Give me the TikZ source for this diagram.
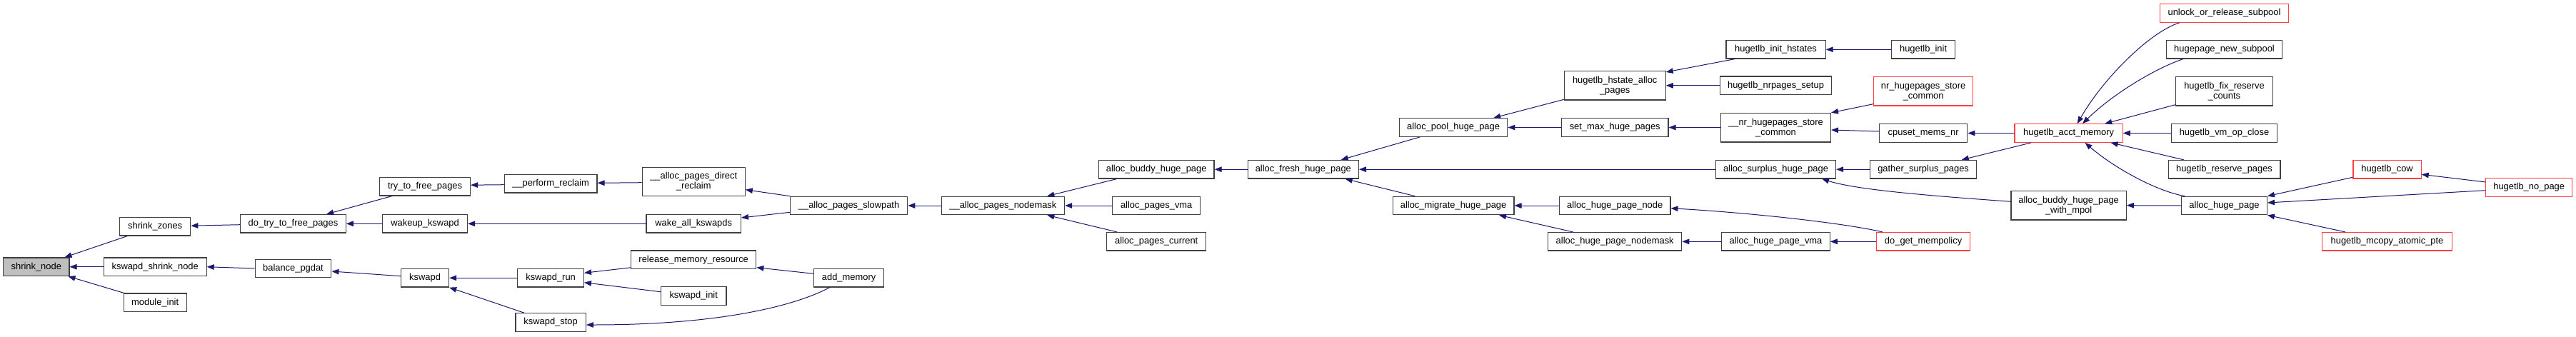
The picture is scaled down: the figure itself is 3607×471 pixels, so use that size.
\documentclass[tikz,border=0pt]{standalone}
\usepackage{fontspec}
\setmainfont{Liberation Sans}
\usetikzlibrary{arrows.meta,calc}
\definecolor{edgec}{RGB}{25,25,112}
\definecolor{bordc}{RGB}{64,64,64}
\definecolor{redc}{RGB}{255,64,64}
\definecolor{fillg}{RGB}{191,191,191}
\begin{document}
\begin{tikzpicture}[x=1pt,y=-1pt,
  box/.style={draw=bordc, line width=1.2pt, fill=white, inner sep=0pt, align=center,
    font=\fontsize{12.9}{14}\selectfont, minimum height=25.5pt},
  tbox/.style={box, minimum height=40.5pt},
  redbox/.style={box, draw=redc},
  tredbox/.style={tbox, draw=redc},
  edge/.style={draw=edgec, line width=1pt, -{Triangle[length=10pt,width=7.5pt]}}]
\useasboundingbox[fill=white] (0,0) rectangle (3607,471);

% column 1-2
\node[box, fill=fillg, minimum width=92.2pt] (shrinknode) at (50.8,373.7) {shrink\_node};
\node[box, minimum width=99.2pt] (shrinkzones) at (217.2,317.2) {shrink\_zones};
\node[box, minimum width=143.9pt] (kswapdshrink) at (217.2,373.7) {kswapd\_shrink\_node};
\node[box, minimum width=88.2pt] (moduleinit) at (217.2,423.7) {module\_init};
% column 3
\node[box, minimum width=147.5pt] (dotry) at (410.5,313.3) {do\_try\_to\_free\_pages};
\node[box, minimum width=106.7pt] (balance) at (410.5,376) {balance\_pgdat};
% column 4
\node[box, minimum width=126.7pt] (trytofree) at (595.1,261.2) {try\_to\_free\_pages};
\node[box, minimum width=118.8pt] (wakeup) at (595.1,313.3) {wakeup\_kswapd};
\node[box, minimum width=67pt] (kswapd) at (595.1,389.3) {kswapd};
% column 5
\node[box, minimum width=129.7pt] (perform) at (771.1,257.2) {\_\_perform\_reclaim};
\node[box, minimum width=92.5pt] (kswapdrun) at (771.1,389.3) {kswapd\_run};
\node[box, minimum width=98.4pt] (kswapdstop) at (771.1,451.5) {kswapd\_stop};
% column 6
\node[tbox, minimum width=144pt] (directreclaim) at (971.2,254.5) {\_\_alloc\_pages\_direct\\\_reclaim};
\node[box, minimum width=132.4pt] (wakeall) at (971.2,313.3) {wake\_all\_kswapds};
\node[box, minimum width=175.2pt] (release) at (971.2,363.8) {release\_memory\_resource};
\node[box, minimum width=91.4pt] (kswapdinit) at (971.2,414.5) {kswapd\_init};
% column 7
\node[box, minimum width=164.3pt] (slowpath) at (1188.6,288) {\_\_alloc\_pages\_slowpath};
\node[box, minimum width=98pt] (addmemory) at (1188.6,389.3) {add\_memory};
% column 8
\node[box, minimum width=172.4pt] (nodemask) at (1404.4,288) {\_\_alloc\_pages\_nodemask};
% column 9
\node[box, minimum width=161.7pt] (buddy) at (1619.2,237.2) {alloc\_buddy\_huge\_page};
\node[box, minimum width=123.3pt] (pagesvma) at (1619.2,288) {alloc\_pages\_vma};
\node[box, minimum width=138.8pt] (pagescurrent) at (1619.2,338.3) {alloc\_pages\_current};
% column 10
\node[box, minimum width=155.2pt] (fresh) at (1824.8,237.2) {alloc\_fresh\_huge\_page};
% column 11
\node[box, minimum width=151.4pt] (pool) at (2035.1,178.5) {alloc\_pool\_huge\_page};
\node[box, minimum width=169.6pt] (migrate) at (2035.1,288) {alloc\_migrate\_huge\_page};
% column 12
\node[tbox, minimum width=141.9pt] (hstate) at (2261.2,119.8) {hugetlb\_hstate\_alloc\\\_pages};
\node[box, minimum width=149.5pt] (setmax) at (2261.2,178.5) {set\_max\_huge\_pages};
\node[box, minimum width=155.4pt] (hpnode) at (2261.2,288) {alloc\_huge\_page\_node};
\node[box, minimum width=187.1pt] (hpnodemask) at (2261.2,338.3) {alloc\_huge\_page\_nodemask};
% column 13
\node[box, minimum width=139.2pt] (inithstates) at (2486.5,69.3) {hugetlb\_init\_hstates};
\node[box, minimum width=156.2pt] (nrpagessetup) at (2486.5,119.8) {hugetlb\_nrpages\_setup};
\node[tbox, minimum width=153.8pt] (nrstoreint) at (2486.5,178.7) {\_\_nr\_hugepages\_store\\\_common};
\node[box, minimum width=168pt] (surplus) at (2486.5,237.2) {alloc\_surplus\_huge\_page};
\node[box, minimum width=151.4pt] (hpvma) at (2486.5,338.3) {alloc\_huge\_page\_vma};
% column 14
\node[box, minimum width=88.6pt] (hugetlbinit) at (2693.1,69.3) {hugetlb\_init};
\node[tredbox, minimum width=138.8pt] (nrstore) at (2693.1,127.8) {nr\_hugepages\_store\\\_common};
\node[box, minimum width=123.4pt] (cpuset) at (2693.1,186.5) {cpuset\_mems\_nr};
\node[box, minimum width=149.4pt] (gather) at (2693.1,237.2) {gather\_surplus\_pages};
\node[redbox, minimum width=130.8pt] (getmempolicy) at (2693.1,338.3) {do\_get\_mempolicy};
% column 15
\node[redbox, minimum width=151.1pt] (acct) at (2896.6,186.5) {hugetlb\_acct\_memory};
\node[tbox, minimum width=161.3pt] (mpol) at (2896.6,287.7) {alloc\_buddy\_huge\_page\\\_with\_mpol};
% column 16
\node[redbox, minimum width=179.6pt] (unlock) at (3114.5,18.5) {unlock\_or\_release\_subpool};
\node[box, minimum width=161.4pt] (newsubpool) at (3114.5,69.3) {hugepage\_new\_subpool};
\node[tbox, minimum width=135.5pt] (fixreserve) at (3114.5,127.8) {hugetlb\_fix\_reserve\\\_counts};
\node[box, minimum width=148.6pt] (vmopclose) at (3114.5,186.5) {hugetlb\_vm\_op\_close};
\node[box, minimum width=156.8pt] (reservepages) at (3114.5,237.2) {hugetlb\_reserve\_pages};
\node[box, minimum width=119.6pt] (allochugepage) at (3114.5,288) {alloc\_huge\_page};
% column 17-18
\node[redbox, minimum width=95.2pt] (cow) at (3342.5,237.2) {hugetlb\_cow};
\node[redbox, minimum width=181.6pt] (mcopy) at (3342.5,338.3) {hugetlb\_mcopy\_atomic\_pte};
\node[redbox, minimum width=120.8pt] (nopage) at (3541.2,262.5) {hugetlb\_no\_page};

% edges (caller -> callee)
\draw[edge] ($(shrinkzones.south west)+(11.4,0)$) -- ($(shrinknode.north east)+(-7,0)$);
\draw[edge] (kswapdshrink.west) -- (shrinknode.east);
\draw[edge] ($(moduleinit.north west)+(1,0)$) -- ($(shrinknode.south east)+(-2,0)$);
\draw[edge] ($(dotry.west)+(0,1.4)$) -- ($(shrinkzones.east)+(0,-1)$);
\draw[edge] (balance.west) -- (kswapdshrink.east);
\draw[edge] ($(trytofree.south west)+(17.8,0)$) -- ($(dotry.north east)+(-27.7,0)$);
\draw[edge] (wakeup.west) -- (dotry.east);
\draw[edge] ($(kswapd.west)+(0,-2.6)$) -- ($(balance.east)+(0,4)$);
\draw[edge] ($(perform.west)+(0,1.5)$) -- ($(trytofree.east)+(0,-2)$);
\draw[edge] (wakeall.west) -- (wakeup.east);
\draw[edge] (kswapdrun.west) -- (kswapd.east);
\draw[edge] ($(kswapdstop.north west)+(12.6,0)$) -- (kswapd.south east);
\draw[edge] ($(directreclaim.west)+(0,1.2)$) -- ($(perform.east)+(0,-0.9)$);
\draw[edge] (slowpath.north west) -- ($(directreclaim.east)+(0,11.2)$);
\draw[edge] ($(slowpath.west)+(0,9.3)$) -- ($(wakeall.east)+(0,-8.3)$);
\draw[edge] ($(release.west)+(0,11)$) -- ($(kswapdrun.east)+(0,-7)$);
\draw[edge] ($(kswapdinit.west)+(0,-5.8)$) -- ($(kswapdrun.east)+(0,6.4)$);
\draw[edge] ($(addmemory.west)+(0,-6)$) -- ($(release.east)+(0,10.9)$);
\draw[edge] ($(addmemory.south west)+(22.6,0)$) .. controls (1120,425) and (1020,455) .. ($(kswapdstop.east)+(0,3.5)$);
\draw[edge] (nodemask.west) -- (slowpath.east);
\draw[edge] ($(buddy.south west)+(26,0)$) -- ($(nodemask.north east)+(-24.9,0)$);
\draw[edge] (pagesvma.west) -- (nodemask.east);
\draw[edge] ($(pagescurrent.north west)+(15,0)$) -- ($(nodemask.south east)+(-24.9,0)$);
\draw[edge] (fresh.west) -- (buddy.east);
\draw[edge] ($(pool.south west)+(29.6,0)$) -- ($(fresh.north east)+(-25.3,0)$);
\draw[edge] (surplus.west) -- (fresh.east);
\draw[edge] ($(migrate.north west)+(31.6,0)$) -- ($(fresh.south east)+(-19.4,0)$);
\draw[edge] ($(hstate.south west)+(0,-1.3)$) -- ($(pool.north east)+(-20.2,0)$);
\draw[edge] (setmax.west) -- (pool.east);
\draw[edge] (hpnode.west) -- (migrate.east);
\draw[edge] ($(hpnodemask.north west)+(35.6,0)$) -- ($(migrate.south east)+(-21.4,0)$);
\draw[edge] ($(inithstates.south west)+(12.7,0)$) -- ($(hstate.north east)+(0,2)$);
\draw[edge] (nrpagessetup.west) -- (hstate.east);
\draw[edge] (nrstoreint.west) -- (setmax.east);
\draw[edge] ($(getmempolicy.north west)+(8.9,0)$) .. controls (2580,312) and (2450,298) .. ($(hpnode.east)+(0,3.7)$);
\draw[edge] (hpvma.west) -- (hpnodemask.east);
\draw[edge] (hugetlbinit.west) -- (inithstates.east);
\draw[edge] ($(nrstore.south west)+(0,-3)$) -- (nrstoreint.north east);
\draw[edge] ($(cpuset.west)+(0,-2.5)$) -- ($(nrstoreint.east)+(0,3.3)$);
\draw[edge] (gather.west) -- (surplus.east);
\draw[edge] ($(mpol.west)+(0,-5.4)$) .. controls (2700,274) and (2600,266) .. ($(surplus.south east)+(-20,0)$);
\draw[edge] (getmempolicy.west) -- (hpvma.east);
\draw[edge] (acct.west) -- (cpuset.east);
\draw[edge] ($(acct.south west)+(23.7,0)$) -- ($(gather.north east)+(-21.7,0)$);
\draw[edge] ($(unlock.south west)+(27.5,0)$) .. controls (3010,45) and (2945,110) .. ($(acct.north west)+(88.2,0)$);
\draw[edge] ($(newsubpool.south west)+(23.6,0)$) .. controls (3020,95) and (2960,130) .. ($(acct.north west)+(95.6,0)$);
\draw[edge] ($(fixreserve.south west)+(0,-2)$) -- ($(acct.north east)+(-25.5,0)$);
\draw[edge] (vmopclose.west) -- (acct.east);
\draw[edge] ($(reservepages.north west)+(22.3,0)$) -- ($(acct.south east)+(-17.2,0)$);
\draw[edge] ($(allochugepage.north west)+(5,0)$) .. controls (3020,268) and (2960,235) .. ($(acct.south west)+(99,0)$);
\draw[edge] (allochugepage.west) -- (mpol.east);
\draw[edge] ($(cow.west)+(0,11.1)$) -- (allochugepage.north east);
\draw[edge] ($(nopage.west)+(0,4.2)$) -- ($(allochugepage.east)+(0,-4)$);
\draw[edge] ($(mcopy.north west)+(32.9,0)$) -- (allochugepage.south east);
\draw[edge] ($(nopage.west)+(0,-7.5)$) -- ($(cow.east)+(0,7.1)$);
\end{tikzpicture}
\end{document}
